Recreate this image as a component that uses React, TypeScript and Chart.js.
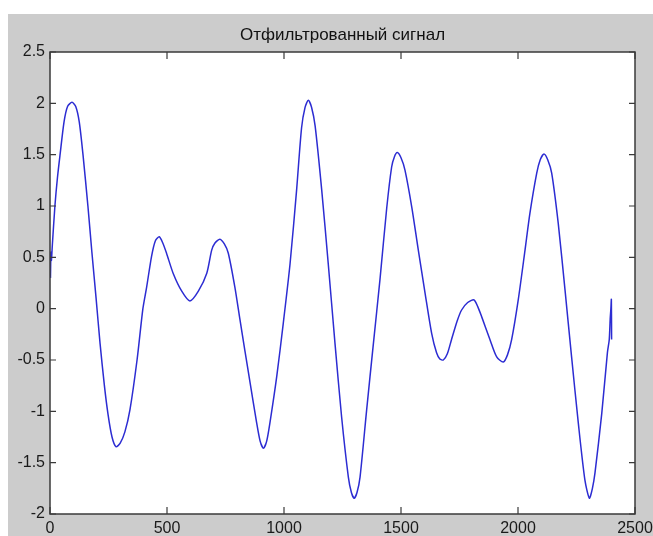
import React, { useEffect, useRef } from 'react';
import { Chart, registerables } from 'chart.js';

Chart.register(...registerables);

const TITLE = 'Отфильтрованный сигнал';

const sampleIndex = [
  2, 4, 6, 10, 21, 32, 43, 60, 75, 94, 110, 125, 141, 162, 179, 197, 214, 232, 248, 265, 282,
  300, 320, 342, 372, 397, 413, 434, 450, 467, 482, 498, 527, 563, 598, 634, 670, 691, 705,
  726, 745, 762, 790, 812, 833, 855, 883, 898, 912, 926, 940, 969, 997, 1026, 1054, 1075,
  1090, 1104, 1118, 1133, 1161, 1189, 1218, 1246, 1275, 1288, 1300, 1312, 1325, 1353, 1382,
  1410, 1439, 1460, 1472, 1484, 1500, 1517, 1546, 1574, 1603, 1631, 1652, 1666, 1681, 1698,
  1716, 1740, 1759, 1785, 1812, 1828, 1845, 1880, 1909, 1937, 1955, 1973, 2001, 2030, 2051,
  2080, 2095, 2111, 2127, 2144, 2172, 2201, 2229, 2258, 2286, 2305, 2318, 2329, 2358, 2382,
  2390, 2394, 2397, 2399, 2400,
];

const signalValues = [
  0.3, 0.55, 0.47, 0.62, 1.0, 1.28, 1.5, 1.82, 1.97, 2.01, 1.97, 1.82, 1.5, 1.0, 0.55, 0.1,
  -0.34, -0.74, -1.03, -1.25, -1.345, -1.31, -1.2, -0.98, -0.5, 0.0, 0.21, 0.51, 0.66, 0.7,
  0.64, 0.54, 0.34, 0.17, 0.075, 0.17, 0.345, 0.57, 0.64, 0.676, 0.63, 0.54, 0.21, -0.11,
  -0.41, -0.72, -1.11, -1.29, -1.36, -1.29, -1.11, -0.66, -0.14, 0.44, 1.16, 1.76, 1.96, 2.03,
  1.96, 1.78, 1.16, 0.44, -0.34, -1.05, -1.64, -1.79, -1.846, -1.79, -1.64, -0.99, -0.34,
  0.28, 0.98, 1.38, 1.48, 1.52, 1.47, 1.35, 0.99, 0.57, 0.15, -0.24, -0.43, -0.49, -0.5,
  -0.44, -0.3, -0.12, -0.013, 0.06, 0.085, 0.02, -0.08, -0.3, -0.47, -0.52, -0.45, -0.3,
  0.085, 0.57, 0.93, 1.32, 1.45, 1.506, 1.45, 1.32, 0.83, 0.18, -0.47, -1.12, -1.67, -1.846,
  -1.75, -1.6, -1.02, -0.43, -0.3, -0.1, 0.0, 0.09, -0.3,
];

const xTicks = [0, 500, 1000, 1500, 2000, 2500];
const xTickLabels = ['0', '500', '1000', '1500', '2000', '2500'];
const yTicks = [-2, -1.5, -1, -0.5, 0, 0.5, 1, 1.5, 2, 2.5];
const yTickLabels = ['-2', '-1.5', '-1', '-0.5', '0', '0.5', '1', '1.5', '2', '2.5'];

const FONT = '"Liberation Sans", Arial, sans-serif';

const boxPlugin = {
  id: 'matlabBox',
  beforeDraw(chart: any) {
    const { ctx, chartArea: a } = chart;
    ctx.save();
    ctx.fillStyle = '#ffffff';
    ctx.fillRect(a.left, a.top, a.right - a.left, a.bottom - a.top);
    ctx.restore();
  },
  afterDraw(chart: any) {
    const { ctx, chartArea: a, scales } = chart;
    ctx.save();
    ctx.strokeStyle = '#3a3a3a';
    ctx.lineWidth = 1.5;
    ctx.strokeRect(a.left, a.top, a.right - a.left, a.bottom - a.top);
    ctx.lineWidth = 1.2;
    ctx.beginPath();
    for (const v of xTicks) {
      const px = scales.x.getPixelForValue(v);
      ctx.moveTo(px, a.bottom);
      ctx.lineTo(px, a.bottom - 7);
      ctx.moveTo(px, a.top);
      ctx.lineTo(px, a.top + 7);
    }
    for (const v of yTicks) {
      const py = scales.y.getPixelForValue(v);
      ctx.moveTo(a.left, py);
      ctx.lineTo(a.left + 6, py);
      ctx.moveTo(a.right, py);
      ctx.lineTo(a.right - 6, py);
    }
    ctx.stroke();
    ctx.restore();
  },
};

export default function App() {
  const ref = useRef<HTMLCanvasElement | null>(null);

  useEffect(() => {
    if (!ref.current) return;
    const data = sampleIndex.map((x, i) => ({ x, y: signalValues[i] }));
    const chart = new Chart(ref.current, {
      type: 'line',
      data: {
        datasets: [
          {
            data,
            borderColor: '#2c2cd2',
            borderWidth: 1.5,
            pointRadius: 0,
            fill: false,
            tension: 0.25,
          },
        ],
      },
      options: {
        animation: false,
        responsive: false,
        maintainAspectRatio: false,
        layout: { padding: { left: 0, right: 18, top: 0, bottom: 0 } },
        plugins: {
          legend: { display: false },
          tooltip: { enabled: false },
          title: {
            display: true,
            text: TITLE,
            fullSize: false,
            color: '#111111',
            font: { family: FONT, size: 17, weight: 'normal', lineHeight: 1.2 },
            padding: { top: 11, bottom: 6.6 },
          },
        },
        scales: {
          x: {
            type: 'linear',
            min: 0,
            max: 2500,
            afterBuildTicks: (s: any) => {
              s.ticks = xTicks.map((v) => ({ value: v }));
            },
            ticks: {
              autoSkip: false,
              maxRotation: 0,
              padding: 5,
              color: '#1a1a1a',
              font: { family: FONT, size: 16 },
              callback: (v: any) => {
                const i = xTicks.indexOf(Number(v));
                return i >= 0 ? xTickLabels[i] : '';
              },
            },
            grid: { display: false, drawTicks: false },
            border: { display: false },
            afterFit: (s: any) => {
              s.height = 22;
              s.paddingLeft = 0;
              s.paddingRight = 0;
            },
          },
          y: {
            type: 'linear',
            min: -2,
            max: 2.5,
            afterBuildTicks: (s: any) => {
              s.ticks = yTicks.map((v) => ({ value: v }));
            },
            ticks: {
              autoSkip: false,
              padding: 5,
              color: '#1a1a1a',
              font: { family: FONT, size: 16 },
              callback: (v: any) => {
                const i = yTicks.indexOf(Number(v));
                return i >= 0 ? yTickLabels[i] : '';
              },
            },
            grid: { display: false, drawTicks: false },
            border: { display: false },
            afterFit: (s: any) => {
              s.width = 42;
              s.paddingTop = 0;
              s.paddingBottom = 0;
            },
          },
        },
      },
      plugins: [boxPlugin],
    });
    return () => chart.destroy();
  }, []);

  return (
    <div
      style={{
        position: 'absolute',
        left: 8,
        top: 14,
        width: 645,
        height: 522,
        background: '#cccccc',
        overflow: 'hidden',
      }}
    >
      <canvas ref={ref} width={645} height={522} style={{ display: 'block' }} />
    </div>
  );
}
